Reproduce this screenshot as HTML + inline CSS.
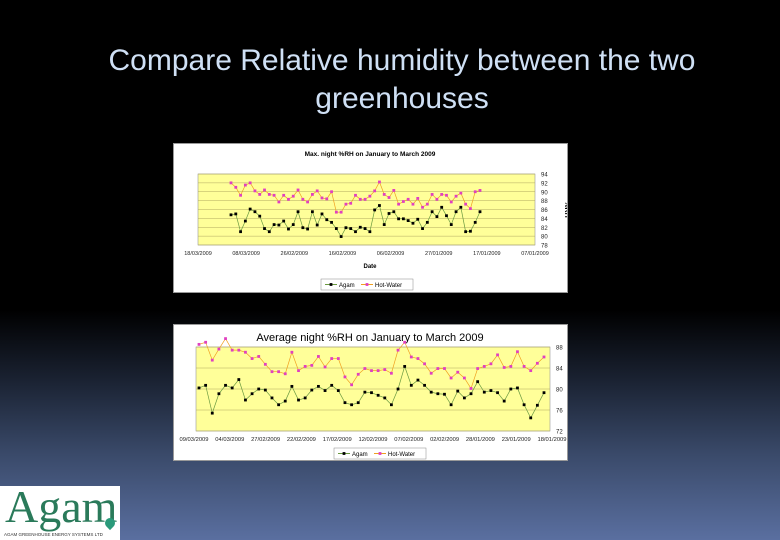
<!DOCTYPE html>
<html><head><meta charset="utf-8"><style>
html,body{margin:0;padding:0}
body{width:780px;height:540px;overflow:hidden;position:relative;font-family:"Liberation Sans",sans-serif;
background:linear-gradient(to bottom,#000 0px,#000 310px,#1a2232 380px,#3a4a6a 455px,#5a6fa0 540px)}
.title{position:absolute;left:0;width:804px;text-align:center;color:#cfe0f5;font-size:30px;line-height:38px;top:42px;white-space:nowrap}
.chart{position:absolute;background:#fff;border:1px solid #999}
.logo{position:absolute;left:0;top:486px;width:120px;height:54px;background:#fff;overflow:hidden}
</style></head><body>
<div class="title">Compare Relative humidity between the two<br>greenhouses</div>
<svg class="chart" style="left:173px;top:143px" width="393" height="148" id="c1"></svg>
<svg class="chart" style="left:173px;top:324px" width="393" height="135" id="c2"></svg>
<div class="logo">
<div style="position:absolute;left:5px;top:-6px;font-family:'Liberation Serif',serif;font-size:46px;color:#2a7a5a">Agam</div>
<div style="position:absolute;right:5px;top:32px;width:10px;height:10px;border-radius:50% 50% 50% 0;transform:rotate(-45deg);background:#2a9a7a"></div>
<div style="position:absolute;left:4px;top:46px;font-size:4.5px;color:#333;white-space:nowrap">AGAM GREENHOUSE ENERGY SYSTEMS LTD</div>
</div>
<script>
const maxHot=[92,91,89.2,91.5,92,90.2,89.4,90.4,89.4,89.2,87.7,89.2,88.3,89,90.4,88.3,87.7,89.4,90.2,88.6,88.4,90,85.4,85.4,87.2,87.4,89.2,88.3,88.3,89,90.2,92.2,89.4,88.7,90.3,87.2,87.8,88.3,87.2,88.5,86.5,87.2,89.4,88.3,89.4,89.2,87.7,89,89.7,87.2,86.2,90,90.3];
const maxAgam=[84.8,85,81,83.4,86.1,85.5,84.5,81.7,81,82.6,82.5,83.4,81.6,82.6,85.5,81.9,81.6,85.5,82.5,85,83.7,83.1,81.7,79.9,81.9,81.7,81,82,81.7,81,85.9,86.9,82.6,85.1,85.5,83.9,83.9,83.5,82.9,83.8,81.7,83.1,85.5,84.4,86.5,84.6,82.6,85.5,86.5,81,81.1,83.1,85.5];
const maxTicks=[78,80,82,84,86,88,90,92,94];
const maxDates=["18/03/2009","08/03/2009","26/02/2009","16/02/2009","06/02/2009","27/01/2009","17/01/2009","07/01/2009"];
const avgHot=[88.5,88.9,85.5,87.6,89.6,87.4,87.4,87,85.8,86.2,84.7,83.3,83.3,82.9,87,83.5,84.3,84.5,86.2,84.2,85.8,85.8,82.3,80.8,82.8,83.9,83.5,83.5,83.7,83,87.4,88.9,86.1,85.8,84.8,83,83.9,83.9,82.1,83.2,82.1,80.1,83.9,84.3,84.8,86.5,84.1,84.3,87.1,84.3,83.5,84.9,86.1];
const avgAgam=[80.2,80.7,75.4,79.1,80.7,80.2,81.8,77.9,79.1,80,79.8,78.3,77,77.7,80.5,77.9,78.3,79.8,80.5,79.7,80.7,79.7,77.4,77,77.4,79.4,79.3,78.8,78.3,77,80,84.3,80.7,81.7,80.7,79.4,79.1,79,77,79.6,78.3,79.1,81.4,79.4,79.7,79.3,77.7,80,80.2,77,74.5,76.9,79.3];
const avgTicks=[72,76,80,84,88];
const avgDates=["09/03/2009","04/03/2009","27/02/2009","22/02/2009","17/02/2009","12/02/2009","07/02/2009","02/02/2009","28/01/2009","23/01/2009","18/01/2009"];
const NS="http://www.w3.org/2000/svg";
function mk(svg,tag,a,txt){const e=document.createElementNS(NS,tag);for(const k in a)e.setAttribute(k,a[k]);if(txt!==undefined)e.textContent=txt;svg.appendChild(e);return e;}
function draw(svg,o){
  const yS=v=>o.pb-(v-o.ymin)/(o.ymax-o.ymin)*(o.pb-o.pt);
  const n=o.hot.length;const xS=i=>o.x0+i*(o.x1-o.x0)/(n-1);
  const t=mk(svg,'text',{x:196,y:o.ty,'text-anchor':'middle','font-size':o.tfs,'font-weight':o.tw,fill:'#000'},o.title);
  
  mk(svg,'rect',{x:o.pl,y:o.pt,width:o.pr-o.pl,height:o.pb-o.pt,fill:'#ffff99',stroke:'#999','stroke-width':0.6});
  o.ticks.forEach(v=>{
    const g=mk(svg,'line',{x1:o.pl,x2:o.pr,y1:yS(v),y2:yS(v),stroke:'#b0a860','stroke-width':0.5});
    
    const l=mk(svg,'text',{x:o.pr+6,y:yS(v)+2.5,'font-size':6,fill:'#222'},v);
    
  });
  const yt=mk(svg,'text',{x:o.pr+30,y:(o.pt+o.pb)/2,'font-size':7,'font-weight':'bold',fill:'#000',transform:`rotate(90 ${o.pr+30} ${(o.pt+o.pb)/2})`,'text-anchor':'middle'},'%RH');
  
  const m=o.dates.length;
  o.dates.forEach((d,i)=>{
    const x=o.dx0+i*(o.dx1-o.dx0)/(m-1);
    const l=mk(svg,'text',{x:x,y:o.pb+10,'font-size':o.dfs,'text-anchor':'middle',fill:'#222'},d);
    
  });
  [[o.hot,'#f0a020','#e040c0','hot-water'],[o.agam,'#6a9a40','#000','agam']].forEach(([arr,lc,mc,nm])=>{
    const p=mk(svg,'polyline',{points:arr.map((v,i)=>xS(i)+','+yS(v)).join(' '),fill:'none',stroke:lc,'stroke-width':0.7});
    
    arr.forEach((v,i)=>{
      const r=mk(svg,'rect',{x:xS(i)-1.4,y:yS(v)-1.4,width:2.8,height:2.8,fill:mc});
      
    });
  });
  if(o.xt){const xt=mk(svg,'text',{x:196,y:o.xt,'font-size':6,'font-weight':'bold','text-anchor':'middle'},'Date');
    }
  const lg=mk(svg,'g',{});
  mk(lg,'rect',{x:o.lx,y:o.ly,width:92,height:11,fill:'#fff',stroke:'#888','stroke-width':0.5});
  mk(lg,'line',{x1:o.lx+4,x2:o.lx+16,y1:o.ly+5.5,y2:o.ly+5.5,stroke:'#6a9a40'});
  mk(lg,'rect',{x:o.lx+8.6,y:o.ly+4.1,width:2.8,height:2.8,fill:'#000'});
  mk(lg,'text',{x:o.lx+18,y:o.ly+8,'font-size':6},'Agam');
  mk(lg,'line',{x1:o.lx+40,x2:o.lx+52,y1:o.ly+5.5,y2:o.ly+5.5,stroke:'#f0a020'});
  mk(lg,'rect',{x:o.lx+44.6,y:o.ly+4.1,width:2.8,height:2.8,fill:'#e040c0'});
  mk(lg,'text',{x:o.lx+54,y:o.ly+8,'font-size':6},'Hot-Water');
}
draw(document.getElementById('c1'),{hot:maxHot,agam:maxAgam,ticks:maxTicks,dates:maxDates,ymin:78,ymax:94,
 pl:24,pr:361,pt:30,pb:101,x0:57,x1:306,ty:12,tfs:6.5,tw:'bold',title:'Max. night %RH on January to March 2009',
 dx0:24,dx1:361,dfs:5.5,xt:124,lx:147,ly:135});
draw(document.getElementById('c2'),{hot:avgHot,agam:avgAgam,ticks:avgTicks,dates:avgDates,ymin:72,ymax:88,
 pl:22,pr:376,pt:22,pb:106,x0:25,x1:370,ty:16,tfs:11,tw:'normal',title:'Average night %RH on January to March 2009',
 dx0:20,dx1:378,dfs:5.8,xt:0,lx:160,ly:123});
</script>
</body></html>
